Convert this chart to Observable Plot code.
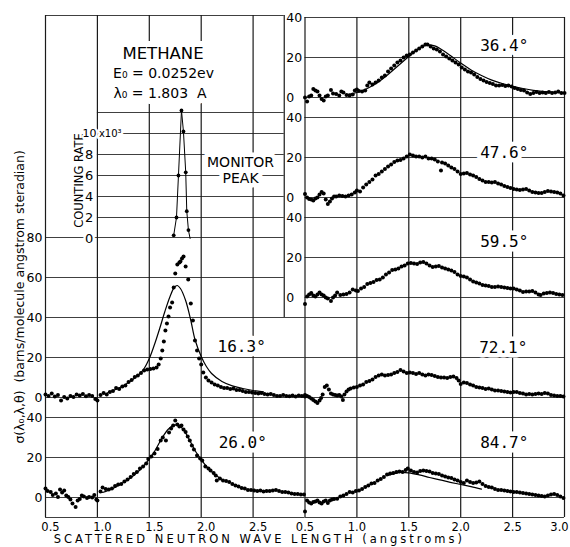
<!DOCTYPE html>
<html><head><meta charset="utf-8">
<script src="https://cdn.jsdelivr.net/npm/d3@7"></script>
<script src="https://cdn.jsdelivr.net/npm/@observablehq/plot@0.6"></script>
<style>html,body{margin:0;padding:0;background:#fff}</style>
</head><body><div id="chart"></div>
<script>
// ---------- data (wavelength in angstroms, cross section in barns/molecule/angstrom/steradian) ----------
const xTicksLeft = [0.5, 1.0, 1.5, 2.0, 2.5];
const xTicksRight = [0.5, 1.0, 1.5, 2.0, 2.5, 3.0];
const monitorTicks = [0, 2, 4, 6, 8, 10];           // counting rate, x10^3

const s163 = [[0.50,1.5],[0.53,0.8],[0.56,2.0],[0.59,0.5],[0.62,1.2],[0.65,-1.5],[0.68,0.3],[0.71,-0.5],[0.74,0.8],[0.77,0.2],[0.80,1.5],[0.83,1.0],[0.86,1.8],[0.89,0.6],[0.92,1.2],[0.95,0.8],[0.98,-0.8],[1.00,-1.5],[1.03,1.2],[1.06,2.2],[1.09,1.5],[1.12,2.8],[1.15,3.2],[1.18,4.8],[1.21,4.2],[1.24,5.5],[1.27,6.0],[1.30,7.8],[1.33,8.8],[1.36,10.2],[1.39,11.0],[1.42,12.2],[1.45,13.5],[1.48,14.0],[1.51,14.3],[1.54,14.5],[1.57,15.0],[1.59,16.5],[1.61,19.5],[1.625,23.5],[1.64,28.0],[1.655,33.5],[1.67,37.0],[1.685,40.5],[1.70,45.0],[1.72,47.5],[1.735,55.0],[1.75,62.0],[1.77,66.5],[1.79,67.5],[1.80,68.0],[1.815,69.5],[1.83,70.5],[1.85,65.5],[1.875,59.0],[1.90,47.0],[1.92,38.5],[1.94,28.5],[1.96,23.5],[1.98,19.5],[2.00,16.5],[2.02,12.5],[2.045,10.0],[2.07,8.5],[2.10,7.5],[2.13,6.5],[2.16,6.0],[2.19,5.2],[2.22,4.8],[2.25,4.7],[2.28,4.2],[2.31,4.5],[2.34,3.8],[2.37,3.7],[2.40,3.2],[2.43,2.8],[2.46,2.7],[2.49,2.5],[2.52,2.2],[2.55,2.0],[2.58,2.2],[2.61,1.8],[2.64,1.5],[2.67,1.7],[2.70,1.2],[2.73,0.8],[2.76,0.7],[2.79,1.2],[2.82,0.8],[2.85,0.6],[2.88,1.0],[2.91,0.5],[2.94,1.0],[2.97,0.8],[3.00,0.5]];
const t163 = [[1.10,2.5],[1.20,4.5],[1.30,7.5],[1.40,11.5],[1.45,14.5],[1.50,19.5],[1.55,26.5],[1.60,34.5],[1.65,43.0],[1.70,50.5],[1.74,55.0],[1.77,56.0],[1.80,54.5],[1.85,48.5],[1.90,38.5],[1.94,29.0],[2.00,20.5],[2.05,15.5],[2.10,12.0],[2.20,8.0],[2.30,5.8],[2.40,4.5],[2.50,3.5],[2.60,2.8]];

const s260 = [[0.50,4.5],[0.52,3.2],[0.55,2.7],[0.57,1.2],[0.60,2.0],[0.62,0.2],[0.64,4.0],[0.66,2.5],[0.68,3.5],[0.70,1.0],[0.72,0.2],[0.74,-1.0],[0.76,-3.0],[0.79,-4.8],[0.81,-1.5],[0.83,-0.7],[0.85,1.0],[0.87,0.5],[0.90,-0.3],[0.92,0.2],[0.95,0.0],[0.97,1.2],[0.99,-1.0],[1.00,-1.5],[1.03,3.0],[1.05,5.0],[1.08,4.2],[1.11,4.0],[1.14,4.5],[1.17,5.8],[1.20,6.5],[1.23,6.8],[1.26,8.0],[1.29,9.0],[1.32,10.2],[1.35,11.8],[1.38,12.8],[1.41,14.5],[1.44,15.5],[1.47,17.0],[1.49,19.3],[1.52,20.5],[1.55,22.0],[1.58,24.3],[1.61,28.5],[1.63,30.0],[1.66,28.5],[1.69,32.5],[1.71,34.5],[1.73,36.0],[1.75,38.5],[1.77,36.5],[1.79,35.5],[1.81,36.0],[1.83,34.0],[1.85,32.7],[1.87,30.5],[1.89,28.5],[1.91,26.0],[1.93,24.0],[1.96,21.0],[1.99,19.5],[2.01,18.5],[2.04,15.5],[2.07,14.5],[2.09,13.5],[2.12,12.2],[2.14,11.0],[2.15,8.5],[2.18,9.5],[2.21,8.5],[2.24,8.2],[2.27,7.7],[2.30,6.8],[2.33,6.0],[2.36,5.5],[2.39,4.8],[2.42,4.5],[2.45,3.8],[2.48,3.8],[2.51,3.5],[2.54,3.2],[2.57,3.5],[2.60,3.0],[2.63,3.2],[2.66,3.2],[2.69,3.5],[2.72,3.8],[2.75,3.2],[2.78,2.8],[2.81,2.7],[2.84,2.5],[2.87,2.0],[2.90,1.8],[2.93,1.7],[2.96,1.5],[2.99,1.5]];
const t260 = [[1.05,2.5],[1.15,4.5],[1.25,7.5],[1.35,11.0],[1.45,16.0],[1.55,23.0],[1.62,29.5],[1.68,34.0],[1.73,36.0],[1.77,36.3],[1.82,34.5],[1.88,29.5],[1.94,23.5],[2.00,19.0],[2.06,15.0],[2.12,12.0],[2.20,9.0]];

const s364 = [[0.50,0.0],[0.52,-2.0],[0.54,0.5],[0.56,1.0],[0.58,4.3],[0.60,3.5],[0.62,3.0],[0.64,1.0],[0.66,-0.7],[0.68,-1.5],[0.70,0.5],[0.72,1.0],[0.75,3.8],[0.77,2.0],[0.80,1.8],[0.83,1.0],[0.85,3.0],[0.87,2.5],[0.90,1.2],[0.93,1.0],[0.96,1.5],[0.98,3.5],[1.00,4.0],[1.02,3.3],[1.05,3.0],[1.08,3.5],[1.10,6.0],[1.12,7.5],[1.15,6.5],[1.18,7.5],[1.21,8.5],[1.24,10.0],[1.27,11.0],[1.30,13.0],[1.33,14.5],[1.36,16.0],[1.39,17.5],[1.42,18.5],[1.45,20.0],[1.48,21.0],[1.51,21.5],[1.54,22.5],[1.57,23.5],[1.60,24.5],[1.63,25.5],[1.66,26.5],[1.68,26.5],[1.71,25.5],[1.74,24.5],[1.77,24.0],[1.80,23.0],[1.83,21.5],[1.86,20.5],[1.89,19.5],[1.92,18.5],[1.95,17.5],[1.98,16.5],[2.01,15.0],[2.04,14.0],[2.07,13.0],[2.10,12.5],[2.13,11.5],[2.16,10.2],[2.19,9.3],[2.22,8.5],[2.25,7.8],[2.28,7.2],[2.31,6.8],[2.34,6.0],[2.37,6.0],[2.40,6.2],[2.43,5.8],[2.46,6.0],[2.49,5.5],[2.52,4.8],[2.55,4.3],[2.58,3.8],[2.61,3.5],[2.64,2.5],[2.67,1.8],[2.70,2.2],[2.73,2.7],[2.76,2.2],[2.79,2.5],[2.82,2.2],[2.85,2.7],[2.88,2.2],[2.91,2.5],[2.94,3.0],[2.97,2.2],[3.00,2.2]];
const t364 = [[0.90,1.5],[1.00,2.5],[1.10,4.5],[1.20,7.5],[1.30,11.5],[1.40,16.0],[1.50,20.5],[1.60,24.5],[1.68,26.3],[1.75,25.8],[1.80,24.5],[1.90,21.0],[2.00,17.2],[2.10,13.8],[2.20,11.0],[2.30,8.7],[2.40,7.0],[2.50,5.6],[2.60,4.5],[2.70,3.6],[2.80,3.0],[2.90,2.6],[3.00,2.3]];

const s476 = [[0.50,1.8],[0.52,0.0],[0.54,-0.7],[0.56,-1.0],[0.58,-1.5],[0.60,-0.5],[0.62,0.0],[0.64,1.5],[0.66,2.7],[0.68,2.0],[0.70,-1.0],[0.72,-3.2],[0.74,-2.0],[0.76,-0.5],[0.78,0.5],[0.80,0.5],[0.83,1.0],[0.86,0.8],[0.89,0.5],[0.92,1.0],[0.95,1.5],[0.98,2.5],[1.00,3.5],[1.03,3.0],[1.06,5.0],[1.09,6.5],[1.12,7.7],[1.15,9.0],[1.18,11.0],[1.21,11.8],[1.24,13.0],[1.27,14.3],[1.30,15.5],[1.33,16.5],[1.36,17.7],[1.39,18.5],[1.42,18.8],[1.45,19.5],[1.48,20.5],[1.51,21.5],[1.54,21.0],[1.57,20.5],[1.60,20.5],[1.63,20.0],[1.66,20.5],[1.69,19.5],[1.72,19.5],[1.75,19.0],[1.78,18.0],[1.81,13.5],[1.82,17.5],[1.85,17.0],[1.88,16.0],[1.91,15.0],[1.94,14.3],[1.97,13.0],[2.00,11.8],[2.03,12.0],[2.06,12.2],[2.09,11.5],[2.12,11.0],[2.15,10.2],[2.18,9.3],[2.21,8.5],[2.24,7.7],[2.27,7.8],[2.30,7.5],[2.33,7.7],[2.36,7.0],[2.39,6.5],[2.42,5.8],[2.45,5.2],[2.48,4.8],[2.51,4.3],[2.54,4.0],[2.57,3.8],[2.60,4.0],[2.63,4.3],[2.66,3.5],[2.69,2.8],[2.72,2.5],[2.75,2.2],[2.78,2.2],[2.81,2.8],[2.84,3.2],[2.87,3.0],[2.90,2.7],[2.93,2.5],[2.96,2.0],[2.99,1.0]];

const s595 = [[0.50,-3.3],[0.52,0.5],[0.54,1.5],[0.56,2.3],[0.58,1.0],[0.60,0.5],[0.62,1.5],[0.64,2.5],[0.66,1.5],[0.68,1.0],[0.70,0.0],[0.72,-0.5],[0.75,-1.7],[0.77,0.0],[0.79,1.0],[0.81,2.5],[0.84,1.3],[0.87,1.5],[0.90,1.7],[0.93,2.5],[0.96,4.0],[0.99,3.5],[1.01,3.3],[1.04,4.5],[1.07,5.3],[1.10,6.7],[1.13,7.2],[1.16,7.8],[1.19,8.7],[1.22,9.0],[1.25,10.0],[1.28,11.5],[1.31,12.5],[1.34,13.7],[1.37,14.0],[1.40,14.5],[1.43,15.5],[1.46,16.0],[1.49,17.0],[1.52,17.3],[1.55,17.0],[1.58,16.8],[1.61,17.5],[1.64,17.8],[1.67,17.0],[1.70,16.0],[1.73,15.3],[1.76,15.5],[1.79,15.7],[1.82,15.0],[1.85,14.5],[1.88,14.0],[1.91,13.5],[1.94,12.8],[1.97,11.5],[2.00,10.7],[2.03,10.5],[2.06,10.0],[2.09,9.0],[2.12,8.0],[2.15,7.5],[2.18,7.0],[2.21,6.3],[2.24,6.0],[2.27,5.8],[2.30,5.3],[2.33,5.3],[2.36,5.5],[2.39,5.2],[2.42,5.0],[2.45,4.8],[2.48,4.5],[2.51,4.5],[2.54,4.0],[2.57,3.5],[2.60,2.8],[2.63,3.0],[2.66,3.0],[2.69,3.3],[2.72,2.5],[2.75,1.5],[2.77,1.2],[2.80,2.0],[2.83,2.3],[2.86,2.5],[2.89,2.3],[2.92,1.8],[2.95,1.5],[2.98,1.2]];

const s721 = [[0.50,1.2],[0.52,0.8],[0.54,0.3],[0.56,-0.5],[0.58,-1.3],[0.60,-2.0],[0.62,-2.7],[0.64,-1.5],[0.655,-0.3],[0.67,1.5],[0.69,5.3],[0.71,6.0],[0.73,4.0],[0.75,2.0],[0.77,1.5],[0.79,1.2],[0.81,1.0],[0.83,1.2],[0.85,0.5],[0.865,-1.3],[0.88,1.5],[0.90,3.0],[0.92,4.0],[0.94,4.5],[0.97,5.0],[1.00,5.3],[1.03,6.0],[1.06,6.5],[1.09,7.7],[1.12,8.2],[1.15,9.0],[1.18,10.2],[1.21,11.0],[1.24,11.5],[1.27,11.0],[1.30,11.3],[1.33,11.5],[1.36,12.2],[1.39,12.7],[1.42,13.8],[1.45,13.0],[1.48,12.2],[1.51,12.5],[1.54,12.2],[1.57,11.8],[1.60,12.2],[1.63,11.5],[1.66,11.0],[1.69,11.5],[1.72,11.3],[1.75,10.8],[1.78,10.2],[1.81,10.0],[1.84,10.0],[1.87,9.8],[1.90,10.2],[1.93,10.5],[1.96,9.8],[1.98,8.5],[2.00,6.8],[2.03,7.5],[2.06,7.2],[2.09,6.5],[2.12,6.0],[2.15,5.2],[2.18,5.0],[2.21,4.8],[2.24,4.3],[2.27,4.5],[2.30,4.0],[2.33,3.5],[2.36,3.5],[2.39,3.2],[2.42,3.0],[2.45,2.7],[2.48,2.5],[2.51,2.8],[2.54,2.7],[2.57,2.2],[2.60,2.0],[2.63,1.5],[2.66,1.8],[2.69,1.5],[2.72,1.8],[2.75,2.0],[2.78,1.8],[2.81,2.2],[2.84,2.0],[2.87,1.2],[2.90,1.0],[2.93,0.8],[2.96,0.7],[2.99,0.5]];

const s847 = [[0.50,-7.0],[0.52,-1.5],[0.54,-2.5],[0.56,-3.0],[0.58,-2.3],[0.60,-2.0],[0.62,-1.5],[0.64,-2.5],[0.66,-3.0],[0.68,-2.0],[0.70,-1.5],[0.72,-2.8],[0.74,-1.5],[0.76,-1.0],[0.78,-0.7],[0.81,-0.6],[0.84,0.5],[0.87,1.0],[0.90,1.8],[0.93,2.7],[0.96,2.5],[0.99,3.2],[1.02,3.5],[1.05,4.3],[1.08,5.2],[1.11,6.0],[1.14,7.0],[1.17,7.2],[1.20,8.5],[1.23,9.3],[1.26,10.2],[1.29,11.5],[1.32,12.0],[1.35,12.3],[1.38,12.7],[1.41,13.0],[1.44,12.7],[1.47,13.8],[1.49,14.5],[1.52,13.5],[1.55,12.7],[1.58,12.5],[1.61,13.3],[1.64,13.5],[1.67,13.3],[1.70,13.0],[1.73,12.3],[1.76,12.0],[1.79,11.8],[1.82,11.0],[1.85,10.5],[1.88,10.0],[1.91,9.8],[1.94,9.0],[1.97,8.5],[2.00,7.7],[2.03,7.2],[2.06,8.5],[2.09,7.8],[2.12,7.2],[2.15,7.5],[2.18,8.0],[2.21,6.8],[2.24,5.8],[2.27,5.2],[2.30,5.0],[2.33,4.3],[2.36,3.8],[2.39,3.8],[2.42,3.5],[2.45,3.2],[2.48,3.0],[2.51,2.7],[2.54,2.7],[2.57,2.5],[2.60,2.2],[2.63,2.0],[2.66,1.8],[2.69,1.5],[2.72,1.2],[2.75,1.0],[2.78,0.8],[2.81,0.5],[2.84,1.0],[2.87,1.5],[2.90,1.8],[2.93,1.3],[2.96,0.5],[2.99,-0.2]];
const t847 = [[1.30,11.0],[1.42,12.5],[1.50,12.3],[1.60,11.3],[1.70,10.0],[1.80,8.8],[1.90,7.6],[2.00,6.5],[2.10,5.4],[2.20,4.2]];

// monitor peak (counting rate, thousands)
const monitor = [[1.735,0.3],[1.762,2.0],[1.781,6.0],[1.810,12.2],[1.829,10.2],[1.851,6.3],[1.861,2.6],[1.877,0.8]];
const monitorTail = [1.893,0.0];

// ---------- layout of the stacked panels (global y = value + base) ----------
const sideShift = 2.5;          // right column drawn at wavelength + 2.5
const insetEdge = 2.8;          // right border of the monitor inset region
const insetBottom = 90;
const topLeft = 241, topRight = 240;
const monitorBase = 129.5, monitorPerK = 5.25;

const panels = [
  {angle:"16.3°", side:0, base:50,  ticks:[0,20,40,60,80], showTicks:true,  dots:s163, theory:t163, at:[2.39,25.5]},
  {angle:"26.0°", side:0, base:0,   ticks:[0,20,40],       showTicks:true,  dots:s260, theory:t260, at:[2.40,27.2]},
  {angle:"36.4°", side:1, base:200, ticks:[0,20,40],       showTicks:true,  dots:s364, theory:t364, at:[2.42,25.6]},
  {angle:"47.6°", side:1, base:150, ticks:[0,20,40],       showTicks:true,  dots:s476, theory:null, at:[2.42,22.3]},
  {angle:"59.5°", side:1, base:100, ticks:[0,20,40],       showTicks:true,  dots:s595, theory:null, at:[2.42,27.7]},
  {angle:"72.1°", side:1, base:50,  ticks:[0,20,40],       showTicks:false, dots:s721, theory:null, at:[2.41,24.8]},
  {angle:"84.7°", side:1, base:0,   ticks:[0,20,40],       showTicks:false, dots:s847, theory:t847, at:[2.42,27.2]}
];

const G = (p, l, v) => ({X: l + p.side * sideShift, Y: v + p.base});
const dotRows = panels.flatMap(p => p.dots.map(([l, v]) => G(p, l, v)));
const theoryRows = panels.flatMap((p, i) => (p.theory || []).map(([l, v]) => ({...G(p, l, v), k: i})));
const monRows = monitor.map(([l, c]) => ({X: l, Y: monitorBase + c * monitorPerK}));
const monLine = [...monRows, {X: monitorTail[0], Y: monitorBase + monitorTail[1] * monitorPerK}];

// grid rules
const hRules = [];
panels.forEach(p => {
  [p.base - 10, ...p.ticks.map(t => p.base + t)].forEach(Y => {
    if (p.side === 0) hRules.push({Y, x1: 0.5, x2: Y > insetBottom ? insetEdge : 3.0});
    else hRules.push({Y, x1: 3.0, x2: 5.5});
  });
});
hRules.push({Y: topLeft, x1: 0.5, x2: insetEdge});
[...monitorTicks, 12].filter(c => c > 0).forEach(c => hRules.push({Y: monitorBase + c * monitorPerK, x1: 1.0, x2: insetEdge}));

const vRules = [
  ...xTicksLeft.map(X => ({X, y1: -10, y2: topLeft})),
  {X: insetEdge, y1: insetBottom, y2: topLeft},
  ...xTicksRight.map(l => ({X: l + sideShift, y1: -10, y2: topRight}))
];

// tick labels
const leftTickMap = new Map();
panels.filter(p => p.side === 0).forEach(p => p.ticks.forEach(t => leftTickMap.set(p.base + t, String(t))));
const rightTickRows = panels.filter(p => p.side === 1 && p.showTicks).flatMap(p => p.ticks.map(t => ({Y: p.base + t, t: String(t)})));
const monTickRows = monitorTicks.filter(c => c < 10).map(c => ({Y: monitorBase + c * monitorPerK, t: String(c)}));
const angleRows = panels.map(p => ({...G(p, p.at[0], p.at[1]), t: p.angle}));
const lastRight = xTicksRight[xTicksRight.length - 1];

const halo = {stroke: "white", strokeWidth: 9, fill: "black", paintOrder: "stroke", strokeLinejoin: "round"};

const chart = Plot.plot({
  width: 570, height: 547,
  marginLeft: 45, marginRight: 6, marginTop: 15, marginBottom: 30,
  x: {domain: [0.5, 5.5], label: null},
  y: {domain: [-10, topLeft], label: null},
  style: {fontFamily: "DejaVu Sans, sans-serif", background: "white", color: "black", overflow: "visible"},
  marks: [
    Plot.ruleY(hRules, {y: "Y", x1: "x1", x2: "x2", stroke: "#404040", strokeWidth: 1}),
    Plot.ruleX(vRules, {x: "X", y1: "y1", y2: "y2", stroke: "#1a1a1a", strokeWidth: 1.2}),
    // title block
    Plot.text(["METHANE"], {x: 1.632, y: 222, text: d => d, fontSize: 16.5, ...halo, strokeWidth: 12}),
    Plot.text(["E₀ = 0.0252ev"], {x: 1.637, y: 212, text: d => d, fontSize: 14, ...halo, strokeWidth: 12}),
    Plot.text(["λ₀ = 1.803  A"], {x: 1.603, y: 202, text: d => d, fontSize: 14, ...halo, strokeWidth: 12}),
    Plot.text(["MONITOR"], {x: 2.379, y: 167.3, text: d => d, fontSize: 14, ...halo}),
    Plot.text(["PEAK"], {x: 2.379, y: 159.5, text: d => d, fontSize: 14, ...halo}),
    Plot.text(["COUNTING RATE"], {x: 0.83, y: 158.5, text: d => d, fontSize: 11.5, rotate: -90}),
    // monitor inset ticks
    Plot.text(monTickRows, {x: 1.0, y: "Y", text: "t", textAnchor: "end", dx: -4, fontSize: 13, ...halo, strokeWidth: 5}),
    Plot.text(["10"], {x: 1.0, y: monitorBase + 10 * monitorPerK, text: d => d, textAnchor: "end", dx: -1, fontSize: 11, ...halo, strokeWidth: 4}),
    Plot.text(["x10³"], {x: 1.0, y: monitorBase + 10 * monitorPerK, text: d => d, textAnchor: "start", dx: 1.5, fontSize: 10, ...halo, strokeWidth: 5}),
    // angle labels
    Plot.text(angleRows, {x: "X", y: "Y", text: "t", fontFamily: "DejaVu Sans Mono", fontSize: 16, ...halo}),
    // right-column y tick labels
    Plot.text(rightTickRows, {x: insetEdge, y: "Y", text: "t", textAnchor: "start", dx: 2, fontSize: 12.5}),
    // data
    Plot.line(theoryRows, {x: "X", y: "Y", z: "k", stroke: "black", strokeWidth: 1.2, curve: "catmull-rom"}),
    Plot.line(monLine, {x: "X", y: "Y", stroke: "black", strokeWidth: 1}),
    Plot.dot(monRows, {x: "X", y: "Y", r: 1.9, fill: "black"}),
    Plot.dot(dotRows, {x: "X", y: "Y", r: 2.0, fill: "black"}),
    // axes
    Plot.axisY([...leftTickMap.keys()], {anchor: "left", tickSize: 0, tickPadding: 3, fontSize: 12.5, tickFormat: d => leftTickMap.get(d), label: null}),
    Plot.axisX(xTicksLeft, {anchor: "bottom", tickSize: 0, tickPadding: 5, dx: 5, fontSize: 11.5, tickFormat: d => d.toFixed(1), label: null}),
    Plot.axisX(xTicksRight.slice(0, -1).map(d => d + sideShift), {anchor: "bottom", tickSize: 0, tickPadding: 5, fontSize: 11.5, tickFormat: d => (d - sideShift).toFixed(1), label: null}),
    Plot.axisX([lastRight + sideShift], {anchor: "bottom", tickSize: 0, tickPadding: 5, dx: -5, fontSize: 11.5, tickFormat: d => (d - sideShift).toFixed(1), label: null}),
    Plot.text(["SCATTERED NEUTRON WAVE LENGTH (angstroms)"], {x: 2.56, y: -21, text: d => d, fontSize: 11.5}),
    Plot.text(["σ(λ₀,λ,θ)  (barns/molecule angstrom steradian)"], {x: 0.259, y: 100.3, text: d => d, fontSize: 12.5, rotate: -90})
  ]
});
chart.querySelectorAll("text").forEach(t => {
  if (t.textContent.startsWith("SCATTERED")) t.setAttribute("letter-spacing", "3");
});
document.getElementById("chart").appendChild(chart);
</script>
</body></html>
